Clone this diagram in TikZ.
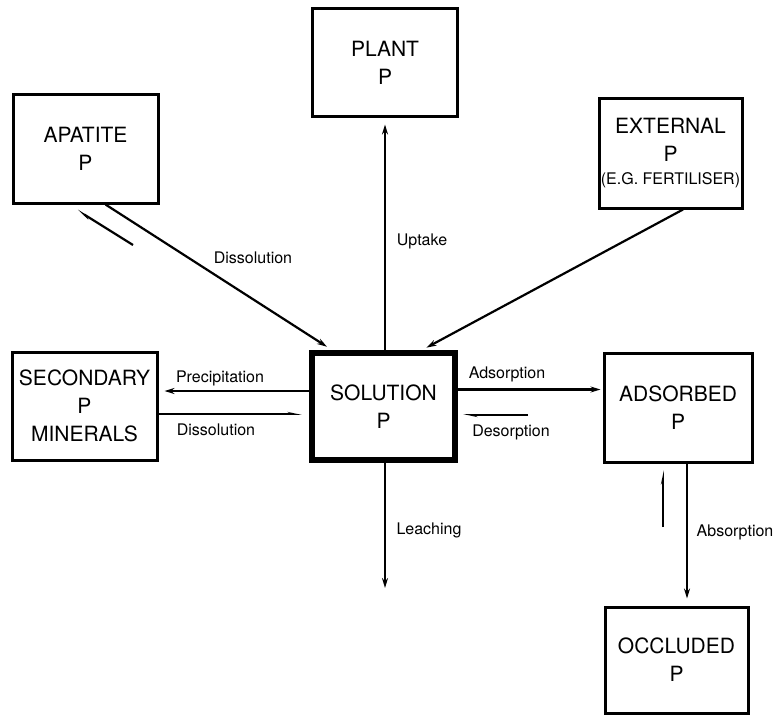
\documentclass[tikz,border=0pt]{standalone}
\usepackage{fontspec}
\setmainfont{TeX Gyre Heros}
\usetikzlibrary{positioning, calc, arrows.meta}

\begin{document}
\begin{tikzpicture}[x=1pt, y=-1pt,
    pool/.style={draw, rectangle, line width=3pt, align=center, inner sep=0pt,
      minimum width=145pt, minimum height=108pt, font=\fontsize{21}{28}\selectfont},
    flow/.style={line width=2.2pt, -{Stealth[length=10pt, width=6pt]}},
    back/.style={line width=2.2pt, -{Stealth[harpoon, length=10pt, width=4pt]}},
    rate/.style={font=\fontsize{16}{18}\selectfont}]
  \useasboundingbox (0,0) rectangle (778,714);

  % pools of P
  \node[pool] (plant) at (385,63) {PLANT\\P};
  \node[pool] (apatite) at (85.5,149) {APATITE\\P};
  \node[pool, minimum width=143pt, minimum height=109pt] (external) at (670.5,153.5)
    {EXTERNAL\\P\\[-5pt]{\fontsize{16}{18}\selectfont (E.G. FERTILISER)}};
  \node[pool] (secondary) at (84.5,406) {SECONDARY\\P\\MINERALS};
  \node[pool, line width=6pt, minimum width=143pt, minimum height=107pt] (solution) at (383.5,406.5) {SOLUTION\\P};
  \node[pool, minimum width=148pt, minimum height=109pt] (adsorbed) at (678,407.5) {ADSORBED\\P};
  \node[pool, minimum width=143pt, minimum height=106pt] (occluded) at (676.5,660) {OCCLUDED\\P};

  % free ends
  \coordinate (apback0) at (133,245);
  \coordinate (apback1) at (77,210);
  \coordinate (desorb0) at (528,415);
  \coordinate (desorb1) at (463,415);
  \coordinate (leach) at (385,588);
  \coordinate (occback0) at (663,527);
  \coordinate (occback1) at (663,470);

  % transfers
  \draw[flow, shorten >=6pt] (plant.south |- solution.north) -- (plant.south);
  \draw[flow, shorten >=6pt] ([xshift=20pt]apatite.south) -- ([xshift=23pt]solution.north west);
  \draw[back] (apback0) -- (apback1);
  \draw[flow, shorten >=5pt] ([xshift=12.5pt]external.south) -- ([xshift=38.5pt]solution.north);
  \draw[flow, shorten >=6pt] ([yshift=15.5pt]solution.west) -- ([yshift=15.5pt]solution.west -| secondary.east);
  \draw[back, shorten >=7pt] ([yshift=-8pt]secondary.east) -- ([yshift=-8pt]secondary.east -| solution.west);
  \draw[flow, shorten >=2pt] ([yshift=17pt]solution.east) -- ([yshift=17pt]solution.east -| adsorbed.west);
  \draw[back] (desorb0) -- (desorb1);
  \draw[flow] (solution.south -| leach) -- (leach);
  \draw[flow, shorten >=7pt] ([xshift=9pt]adsorbed.south) -- ([xshift=9pt]adsorbed.south |- occluded.north);
  \draw[back] (occback0) -- (occback1);

  % rates
  \node[rate] (uptake) at (422,241) {Uptake};
  \node[rate] (dissol1) at (253,258) {Dissolution};
  \node[rate] (precip) at (220,378) {Precipitation};
  \node[rate] (dissol2) at (216,430) {Dissolution};
  \node[rate] (adsorp) at (507,374) {Adsorption};
  \node[rate] (desorp) at (511,432) {Desorption};
  \node[rate] (leaching) at (429,530) {Leaching};
  \node[rate] (absorp) at (735,532) {Absorption};
\end{tikzpicture}
\end{document}
